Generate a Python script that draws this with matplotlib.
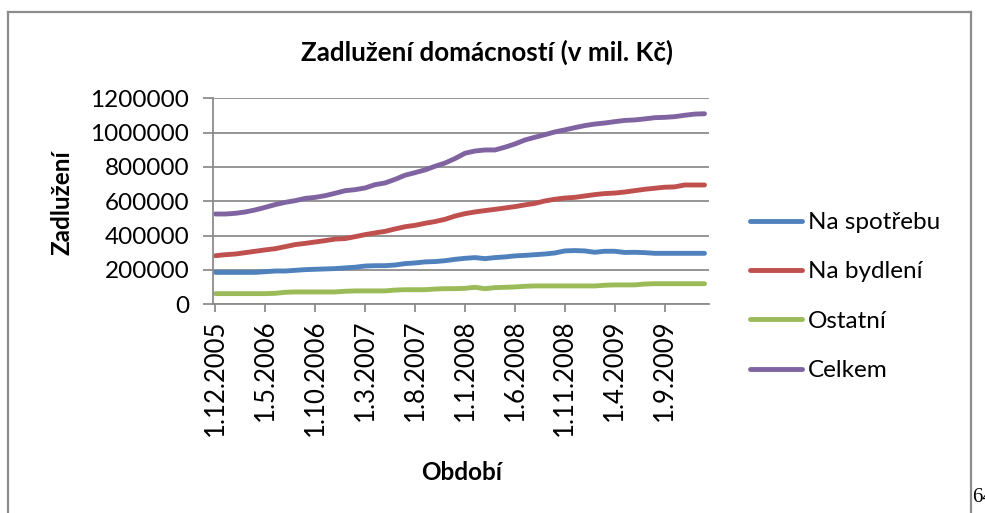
import matplotlib
matplotlib.use("Agg")
import matplotlib.pyplot as plt
import matplotlib.transforms as mtransforms
from matplotlib.lines import Line2D

plt.rcParams['font.family'] = ['Lato', 'DejaVu Sans']

# Monthly data, 1.12.2005 .. 1.1.2010
months = ["1.12.2005", "1.1.2006", "1.2.2006", "1.3.2006", "1.4.2006", "1.5.2006", "1.6.2006",
          "1.7.2006", "1.8.2006", "1.9.2006", "1.10.2006", "1.11.2006", "1.12.2006",
          "1.1.2007", "1.2.2007", "1.3.2007", "1.4.2007", "1.5.2007", "1.6.2007",
          "1.7.2007", "1.8.2007", "1.9.2007", "1.10.2007", "1.11.2007", "1.12.2007",
          "1.1.2008", "1.2.2008", "1.3.2008", "1.4.2008", "1.5.2008", "1.6.2008",
          "1.7.2008", "1.8.2008", "1.9.2008", "1.10.2008", "1.11.2008", "1.12.2008",
          "1.1.2009", "1.2.2009", "1.3.2009", "1.4.2009", "1.5.2009", "1.6.2009",
          "1.7.2009", "1.8.2009", "1.9.2009", "1.10.2009", "1.11.2009", "1.12.2009",
          "1.1.2010"]

na_spotrebu = [186000, 186000, 186000, 186000, 186000, 190000, 194000, 194000, 198000, 202000,
               204000, 206000, 208000, 212000, 216000, 223000, 225000, 225000, 229000, 237000,
               241000, 247000, 249000, 254000, 262000, 268000, 272000, 266000, 272000, 276000,
               282000, 285000, 289000, 293000, 299000, 311000, 313000, 311000, 303000, 309000,
               309000, 302000, 303000, 301000, 297000, 297000, 297000, 297000, 297000, 297000]

na_bydleni = [283000, 289000, 293000, 301000, 309000, 317000, 324000, 336000, 348000, 355000,
              363000, 371000, 380000, 383000, 394000, 406000, 416000, 425000, 439000, 452000,
              460000, 472000, 482000, 495000, 514000, 528000, 538000, 546000, 553000, 561000,
              569000, 579000, 588000, 602000, 612000, 619000, 623000, 631000, 639000, 645000,
              648000, 654000, 662000, 670000, 676000, 682000, 684000, 695000, 695000, 695000]

ostatni = [62000, 62000, 62000, 62000, 62000, 62000, 64000, 70000, 72000, 72000,
           72000, 72000, 72000, 76000, 78000, 78000, 78000, 78000, 83000, 85000,
           85000, 85000, 89000, 91000, 91000, 93000, 99000, 91000, 97000, 99000,
           101000, 105000, 107000, 107000, 107000, 107000, 107000, 107000, 107000, 111000,
           113000, 113000, 113000, 118000, 120000, 120000, 120000, 120000, 120000, 120000]

celkem = [526000, 526000, 530000, 538000, 550000, 565000, 581000, 594000, 604000, 617000,
          623000, 633000, 647000, 662000, 668000, 678000, 697000, 707000, 728000, 752000,
          767000, 783000, 804000, 823000, 849000, 880000, 893000, 899000, 899000, 915000,
          934000, 957000, 973000, 988000, 1004000, 1016000, 1029000, 1041000, 1050000, 1056000,
          1064000, 1071000, 1074000, 1080000, 1087000, 1089000, 1093000, 1101000, 1108000, 1110000]

series_names = ["Na spotřebu", "Na bydlení", "Ostatní", "Celkem"]
series_colors = ["#4F81BD", "#C0504D", "#9BBB59", "#8064A2"]

title = "Zadlužení domácností (v mil. Kč)"
ylabel = "Zadlužení"
xlabel = "Období"
yticks = [0, 200000, 400000, 600000, 800000, 1000000, 1200000]

W, H = 985, 513
fig = plt.figure(figsize=(W / 100, H / 100), dpi=100)
fig.patch.set_facecolor("white")

# outer chart frame
frame_col = "#8C8C8C"
fl, ft, fr = 7.5 / W, 1 - 11.5 / H, 970.5 / W
fig.add_artist(Line2D([fl, fl], [-0.05, ft], transform=fig.transFigure, color=frame_col, lw=1.6))
fig.add_artist(Line2D([fl, fr], [ft, ft], transform=fig.transFigure, color=frame_col, lw=1.6))
fig.add_artist(Line2D([fr, fr], [-0.05, ft], transform=fig.transFigure, color=frame_col, lw=1.6))

ax_l, ax_r, ax_t, ax_b = 213, 709, 98.3, 304.3
ax = fig.add_axes([ax_l / W, 1 - ax_b / H, (ax_r - ax_l) / W, (ax_b - ax_t) / H])

x = list(range(len(months)))
for vals, name, col in zip([na_spotrebu, na_bydleni, ostatni, celkem], series_names, series_colors):
    ax.plot(x, vals, color=col, lw=3.5, label=name, solid_capstyle="round", solid_joinstyle="round")

ax.set_xlim(-0.25, 49.45)
ax.set_ylim(0, 1200000)
ax.set_yticks(yticks)
ax.set_yticklabels([str(v) for v in yticks], fontsize=17.5)
ax.yaxis.grid(True, color="#8C8C8C", lw=1.3)
ax.set_axisbelow(True)

tick_idx = list(range(0, len(months), 5))
ax.set_xticks(tick_idx)
ax.set_xticklabels([months[i] for i in tick_idx], rotation=90, fontsize=18.5, va="top", ha="center")
offset = mtransforms.ScaledTranslation(6 / 100, 0, fig.dpi_scale_trans)
for lab in ax.get_xticklabels():
    lab.set_transform(lab.get_transform() + offset)

for s in ["top", "right"]:
    ax.spines[s].set_visible(False)
for s in ["left", "bottom"]:
    ax.spines[s].set_color("#8C8C8C")
    ax.spines[s].set_linewidth(1.3)
ax.tick_params(axis="y", length=7, width=1.3, color="#8C8C8C", pad=10)
ax.tick_params(axis="x", length=6, width=1.3, color="#8C8C8C", pad=5)

fig.text(487 / W, 1 - 52 / H, title, ha="center", va="center", fontsize=18.7, fontweight="bold")
fig.text(62 / W, 1 - 203 / H, ylabel, ha="center", va="center", rotation=90, fontsize=17.5, fontweight="bold")
fig.text(462 / W, 1 - 472 / H, xlabel, ha="center", va="center", fontsize=17.5, fontweight="bold")

leg = fig.legend(loc="upper left", bbox_to_anchor=(750 / W, 1 - 212 / H), frameon=False,
                 fontsize=17.5, handlelength=2.15, handletextpad=0.25, labelspacing=1.17,
                 borderaxespad=0, borderpad=0)

fig.text(972 / W, 1 - 497 / H, "64", ha="left", va="center", fontsize=15, family="Liberation Serif")

fig.savefig("out.png", dpi=100)
